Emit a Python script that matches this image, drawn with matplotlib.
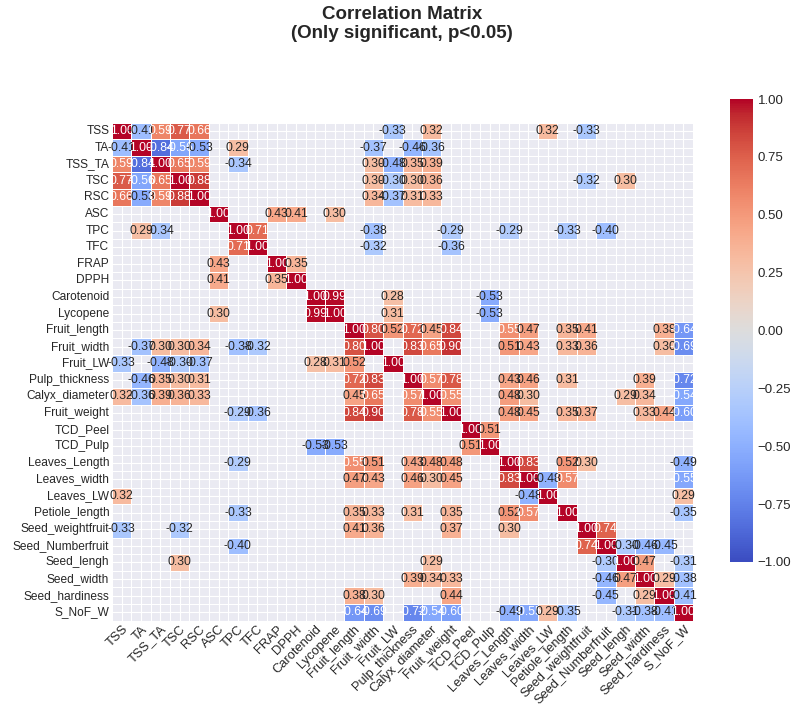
import numpy as np
import pandas as pd
import matplotlib
matplotlib.use("Agg")
import matplotlib.pyplot as plt
import seaborn as sns

labels = ["TSS", "TA", "TSS_TA", "TSC", "RSC", "ASC", "TPC", "TFC", "FRAP", "DPPH",
          "Carotenoid", "Lycopene", "Fruit_length", "Fruit_width", "Fruit_LW",
          "Pulp_thickness", "Calyx_diameter", "Fruit_weight", "TCD_Peel", "TCD_Pulp",
          "Leaves_Length", "Leaves_width", "Leaves_LW", "Petiole_length",
          "Seed_weightfruit", "Seed_Numberfruit", "Seed_lengh", "Seed_width",
          "Seed_hardiness", "S_NoF_W"]

# significant correlations (upper triangle)
pairs_quality = [
    ("TSS", "TA", -0.41), ("TSS", "TSS_TA", 0.59), ("TSS", "TSC", 0.77), ("TSS", "RSC", 0.66),
    ("TSS", "Fruit_LW", -0.33), ("TSS", "Calyx_diameter", 0.32), ("TSS", "Leaves_LW", 0.32),
    ("TSS", "Seed_weightfruit", -0.33),
    ("TA", "TSS_TA", -0.84), ("TA", "TSC", -0.56), ("TA", "RSC", -0.53), ("TA", "TPC", 0.29),
    ("TA", "Fruit_width", -0.37), ("TA", "Pulp_thickness", -0.46), ("TA", "Calyx_diameter", -0.36),
    ("TSS_TA", "TSC", 0.65), ("TSS_TA", "RSC", 0.59), ("TSS_TA", "TPC", -0.34),
    ("TSS_TA", "Fruit_width", 0.30), ("TSS_TA", "Fruit_LW", -0.48),
    ("TSS_TA", "Pulp_thickness", 0.35), ("TSS_TA", "Calyx_diameter", 0.39),
    ("TSC", "RSC", 0.88), ("TSC", "Fruit_width", 0.30), ("TSC", "Fruit_LW", -0.30),
    ("TSC", "Pulp_thickness", 0.30), ("TSC", "Calyx_diameter", 0.36),
    ("TSC", "Seed_weightfruit", -0.32), ("TSC", "Seed_lengh", 0.30),
    ("RSC", "Fruit_width", 0.34), ("RSC", "Fruit_LW", -0.37), ("RSC", "Pulp_thickness", 0.31),
    ("RSC", "Calyx_diameter", 0.33),
]
pairs_bioactive = [
    ("ASC", "FRAP", 0.43), ("ASC", "DPPH", 0.41), ("ASC", "Lycopene", 0.30),
    ("TPC", "TFC", 0.71), ("TPC", "Fruit_width", -0.38), ("TPC", "Fruit_weight", -0.29),
    ("TPC", "Leaves_Length", -0.29), ("TPC", "Petiole_length", -0.33),
    ("TPC", "Seed_Numberfruit", -0.40),
    ("TFC", "Fruit_width", -0.32), ("TFC", "Fruit_weight", -0.36),
    ("FRAP", "DPPH", 0.35),
    ("Carotenoid", "Lycopene", 0.99), ("Carotenoid", "Fruit_LW", 0.28),
    ("Carotenoid", "TCD_Pulp", -0.53),
    ("Lycopene", "Fruit_LW", 0.31), ("Lycopene", "TCD_Pulp", -0.53),
]
pairs_fruit = [
    ("Fruit_length", "Fruit_width", 0.80), ("Fruit_length", "Fruit_LW", 0.52),
    ("Fruit_length", "Pulp_thickness", 0.72), ("Fruit_length", "Calyx_diameter", 0.45),
    ("Fruit_length", "Fruit_weight", 0.84), ("Fruit_length", "Leaves_Length", 0.55),
    ("Fruit_length", "Leaves_width", 0.47), ("Fruit_length", "Petiole_length", 0.35),
    ("Fruit_length", "Seed_weightfruit", 0.41), ("Fruit_length", "Seed_hardiness", 0.38),
    ("Fruit_length", "S_NoF_W", -0.64),
    ("Fruit_width", "Pulp_thickness", 0.83), ("Fruit_width", "Calyx_diameter", 0.65),
    ("Fruit_width", "Fruit_weight", 0.90), ("Fruit_width", "Leaves_Length", 0.51),
    ("Fruit_width", "Leaves_width", 0.43), ("Fruit_width", "Petiole_length", 0.33),
    ("Fruit_width", "Seed_weightfruit", 0.36), ("Fruit_width", "Seed_hardiness", 0.30),
    ("Fruit_width", "S_NoF_W", -0.69),
    ("Pulp_thickness", "Calyx_diameter", 0.57), ("Pulp_thickness", "Fruit_weight", 0.78),
    ("Pulp_thickness", "Leaves_Length", 0.43), ("Pulp_thickness", "Leaves_width", 0.46),
    ("Pulp_thickness", "Petiole_length", 0.31), ("Pulp_thickness", "Seed_width", 0.39),
    ("Pulp_thickness", "S_NoF_W", -0.72),
    ("Calyx_diameter", "Fruit_weight", 0.55), ("Calyx_diameter", "Leaves_Length", 0.48),
    ("Calyx_diameter", "Leaves_width", 0.30), ("Calyx_diameter", "Seed_lengh", 0.29),
    ("Calyx_diameter", "Seed_width", 0.34), ("Calyx_diameter", "S_NoF_W", -0.54),
    ("Fruit_weight", "Leaves_Length", 0.48), ("Fruit_weight", "Leaves_width", 0.45),
    ("Fruit_weight", "Petiole_length", 0.35), ("Fruit_weight", "Seed_weightfruit", 0.37),
    ("Fruit_weight", "Seed_width", 0.33), ("Fruit_weight", "Seed_hardiness", 0.44),
    ("Fruit_weight", "S_NoF_W", -0.60),
    ("TCD_Peel", "TCD_Pulp", 0.51),
]
pairs_leaf_seed = [
    ("Leaves_Length", "Leaves_width", 0.83), ("Leaves_Length", "Petiole_length", 0.52),
    ("Leaves_Length", "Seed_weightfruit", 0.30), ("Leaves_Length", "S_NoF_W", -0.49),
    ("Leaves_width", "Leaves_LW", -0.48), ("Leaves_width", "Petiole_length", 0.57),
    ("Leaves_width", "S_NoF_W", -0.55),
    ("Leaves_LW", "S_NoF_W", 0.29),
    ("Petiole_length", "S_NoF_W", -0.35),
    ("Seed_weightfruit", "Seed_Numberfruit", 0.74),
    ("Seed_Numberfruit", "Seed_lengh", -0.30), ("Seed_Numberfruit", "Seed_width", -0.46),
    ("Seed_Numberfruit", "Seed_hardiness", -0.45),
    ("Seed_lengh", "Seed_width", 0.47), ("Seed_lengh", "S_NoF_W", -0.31),
    ("Seed_width", "Seed_hardiness", 0.29), ("Seed_width", "S_NoF_W", -0.38),
    ("Seed_hardiness", "S_NoF_W", -0.41),
]

n = len(labels)
idx = {name: k for k, name in enumerate(labels)}
corr = np.full((n, n), np.nan)
np.fill_diagonal(corr, 1.0)
for a, b, r in pairs_quality + pairs_bioactive + pairs_fruit + pairs_leaf_seed:
    corr[idx[a], idx[b]] = r
    corr[idx[b], idx[a]] = r
df = pd.DataFrame(corr, index=labels, columns=labels)

sns.set_style("darkgrid")
plt.rcParams["font.family"] = ["Liberation Sans", "DejaVu Sans"]

W, H = 793, 713
fig = plt.figure(figsize=(W / 100, H / 100), dpi=100)
ax = fig.add_axes([112 / W, 1 - 620.5 / H, 581 / W, 497.8 / H])
cax = fig.add_axes([730 / W, 1 - 562 / H, 23 / W, 463 / H])

sns.heatmap(df, mask=df.isna(), annot=True, fmt=".2f", cmap="coolwarm",
            vmin=-1, vmax=1, center=0, linewidths=0.5, linecolor="white",
            ax=ax, cbar_ax=cax, annot_kws={"size": 8.8})

ax.set_xticks(np.arange(n) + 0.5)
ax.set_xticklabels(labels, rotation=45, ha="right", rotation_mode="anchor",
                   fontsize=9.3, color="#262626")
ax.set_yticks(np.arange(n) + 0.5)
ax.set_yticklabels(labels, rotation=0, fontsize=8.6, color="#262626")
ax.tick_params(length=0, pad=2)
ax.set_facecolor("#EAEAF2")
ax.set_axisbelow(True)
ax.grid(True, color="white", linewidth=0.8)

cax.tick_params(labelsize=9.5, length=0)
cax.set_yticks([-1, -0.75, -0.5, -0.25, 0, 0.25, 0.5, 0.75, 1])
cax.set_yticklabels(["\u22121.00", "\u22120.75", "\u22120.50", "\u22120.25", "0.00",
                     "0.25", "0.50", "0.75", "1.00"])

fig.text(402 / W, 1 - 24 / H, "Correlation Matrix\n(Only significant, p<0.05)",
         ha="center", va="center", fontsize=13.5, fontweight="bold",
         linespacing=1.1, color="#262626")

fig.savefig("out.png", dpi=100)
